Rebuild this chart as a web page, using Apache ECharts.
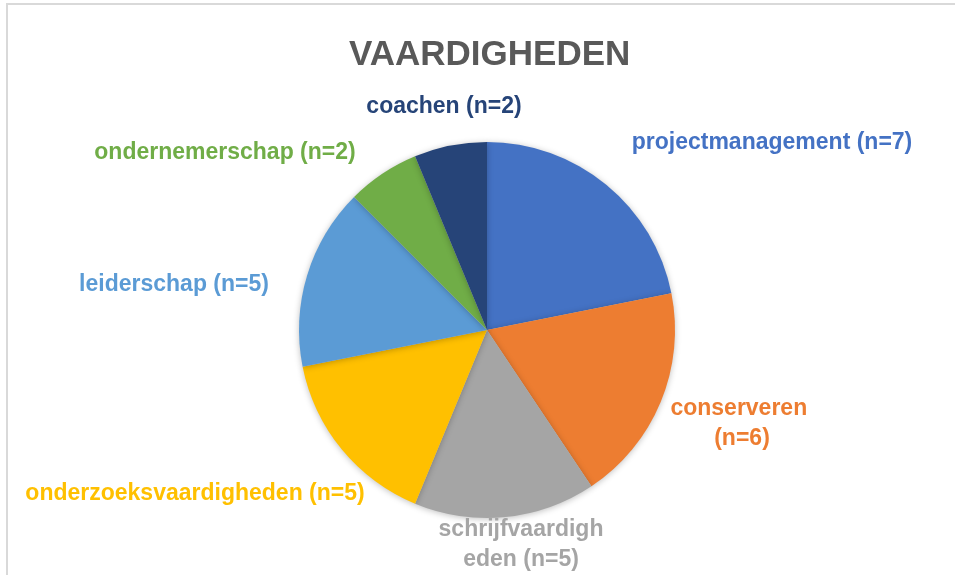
<!DOCTYPE html>
<html>
<head>
<meta charset="utf-8">
<script src="https://cdn.jsdelivr.net/npm/echarts@6/dist/echarts.min.js"></script>
<style>
  html, body { margin: 0; padding: 0; background: #ffffff; }
  #chart { width: 955px; height: 575px; }
</style>
</head>
<body>
<div id="chart"></div>
<script>
// Vaardigheden — taartdiagram

var categories = ['projectmanagement', 'conserveren', 'schrijfvaardigheden', 'onderzoeksvaardigheden', 'leiderschap', 'ondernemerschap', 'coachen'];
var counts = [7, 6, 5, 5, 5, 2, 2];
var colors = ['#4472C4', '#ED7D31', '#A5A5A5', '#FFC000', '#5B9BD5', '#70AD47', '#264478'];

// plek van elk label (midden), zoals in Excel "beste passend"
var labelPos = [
    [772, 143], [742, 424], [521, 545], [195, 494], [174, 285], [225, 153], [444, 107]
];
// labels die over twee regels lopen
var labelWrap = {
    1: { width: 150, overflow: 'break' },
    2: { width: 170, overflow: 'breakAll' }
};

var chart = echarts.init(document.getElementById('chart'));

var pieData = categories.map(function(name, i) {
    var item = {
        name: name,
        value: counts[i],
        itemStyle: { color: colors[i] },
        label: { color: colors[i] }
    };
    if (labelWrap[i]) {
        item.label.width = labelWrap[i].width;
        item.label.overflow = labelWrap[i].overflow;
    }
    return item;
});

var option = {
    backgroundColor: '#ffffff',
    animation: false,
    title: {
        text: 'VAARDIGHEDEN',
        left: 344,
        top: 33,
        textStyle: {
            fontFamily: 'Liberation Sans',
            fontSize: 35,
            fontWeight: 'bold',
            color: '#595959'
        }
    },
    graphic: [{
        type: 'rect',
        shape: { x: 7, y: 4, width: 1000, height: 1000 },
        style: { fill: 'none', stroke: '#d9d9d9', lineWidth: 2 },
        silent: true
    }],
    series: [{
        type: 'pie',
        center: [487, 330],
        radius: [0, 188],
        startAngle: 90,
        clockwise: true,
        avoidLabelOverlap: false,
        itemStyle: {
            borderWidth: 0,
            shadowBlur: 6,
            shadowColor: 'rgba(0, 0, 0, 0.25)',
            shadowOffsetY: 1
        },
        label: {
            show: true,
            position: 'outside',
            fontFamily: 'Liberation Sans',
            fontSize: 23,
            fontWeight: 'bold',
            lineHeight: 30,
            align: 'center',
            formatter: function(p) {
                return p.name + ' (n=' + p.value + ')';
            }
        },
        labelLine: { show: false },
        labelLayout: function(params) {
            var pos = labelPos[params.dataIndex];
            return {
                x: pos[0],
                y: pos[1],
                align: 'center',
                verticalAlign: 'middle'
            };
        },
        data: pieData
    }]
};

chart.setOption(option);
</script>
</body>
</html>
